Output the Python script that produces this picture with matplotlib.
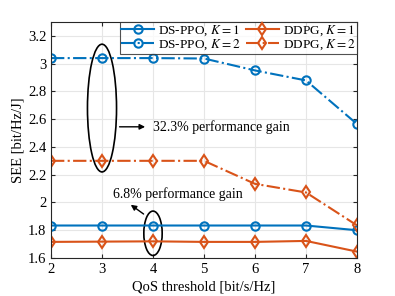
import matplotlib
matplotlib.use("Agg")
import matplotlib.pyplot as plt
from matplotlib.patches import Ellipse

plt.rcParams['font.family'] = ['Liberation Serif', 'DejaVu Serif']
plt.rcParams['mathtext.fontset'] = 'stix'
plt.rcParams['font.size'] = 10

# QoS thresholds and SEE values
qos = [2, 3, 4, 5, 6, 7, 8]
ppo_k1 = [1.834, 1.834, 1.834, 1.834, 1.834, 1.834, 1.80]
ppo_k2 = [3.04, 3.04, 3.04, 3.037, 2.951, 2.879, 2.565]
ddpg_k1 = [1.716, 1.718, 1.720, 1.716, 1.716, 1.723, 1.646]
ddpg_k2 = [2.30, 2.30, 2.30, 2.30, 2.134, 2.072, 1.835]

blue = '#0072BD'
orange = '#D95319'

fig = plt.figure(figsize=(3.95, 2.96), dpi=100)
ax = fig.add_axes([51 / 395, 1 - 258 / 296, 306 / 395, 236 / 296])

ax.plot(qos, ppo_k1, '-o', color=blue, lw=1.5, ms=6, mfc='none', mew=1.5,
        label=r'DS-PPO, $K=1$')
ax.plot(qos, ppo_k2, '-.o', color=blue, lw=1.5, ms=6, mfc='none', mew=1.5,
        label=r'DS-PPO, $K=2$')
ax.plot(qos, ddpg_k1, '-d', color=orange, lw=1.5, ms=6, mfc='none', mew=1.5,
        label=r'DDPG, $K=1$')
ax.plot(qos, ddpg_k2, '-.d', color=orange, lw=1.5, ms=6, mfc='none', mew=1.5,
        label=r'DDPG, $K=2$')

ax.set_xlim(2, 8)
ax.set_ylim(1.6, 3.3)
ax.set_xticks(qos)
ax.set_yticks([1.6, 1.8, 2.0, 2.2, 2.4, 2.6, 2.8, 3.0, 3.2])
ax.set_yticklabels(['1.6', '1.8', '2', '2.2', '2.4', '2.6', '2.8', '3', '3.2'])
ax.grid(True, color='#e6e6e6', lw=0.8)
ax.set_axisbelow(True)
ax.tick_params(direction='in', top=True, right=True, length=3, color='#262626',
               labelsize=10.5)
for s in ax.spines.values():
    s.set_color('#262626')
    s.set_linewidth(0.8)

ax.set_xlabel('QoS threshold [bit/s/Hz]', fontsize=10.5, labelpad=3)
ax.set_ylabel('SEE [bit/Hz/J]', fontsize=10.5, labelpad=2)

# annotations
ax.add_patch(Ellipse((3, 2.68), 0.57, 0.92, fill=False, ec='black', lw=1.2))
ax.annotate('', xy=(3.9, 2.545), xytext=(3.29, 2.545),
            arrowprops=dict(arrowstyle='-|>', color='black', lw=1, mutation_scale=8))
ax.text(4.0, 2.545, '32.3% performance gain', va='center', ha='left', fontsize=10)

ax.add_patch(Ellipse((4, 1.778), 0.36, 0.32, fill=False, ec='black', lw=1.2))
ax.annotate('', xy=(3.52, 1.995), xytext=(3.86, 1.905),
            arrowprops=dict(arrowstyle='-|>', color='black', lw=1, mutation_scale=8))
ax.text(3.22, 2.06, '6.8% performance gain', va='center', ha='left', fontsize=10)

leg = ax.legend(ncol=2, loc='upper right', fontsize=9.5, frameon=True, fancybox=False,
                borderpad=0.1, handlelength=2.5, handletextpad=0.3,
                columnspacing=0.4, labelspacing=0.0, borderaxespad=0)
leg.get_frame().set_edgecolor('#262626')
leg.get_frame().set_linewidth(0.8)

fig.savefig('out.png', dpi=100)
